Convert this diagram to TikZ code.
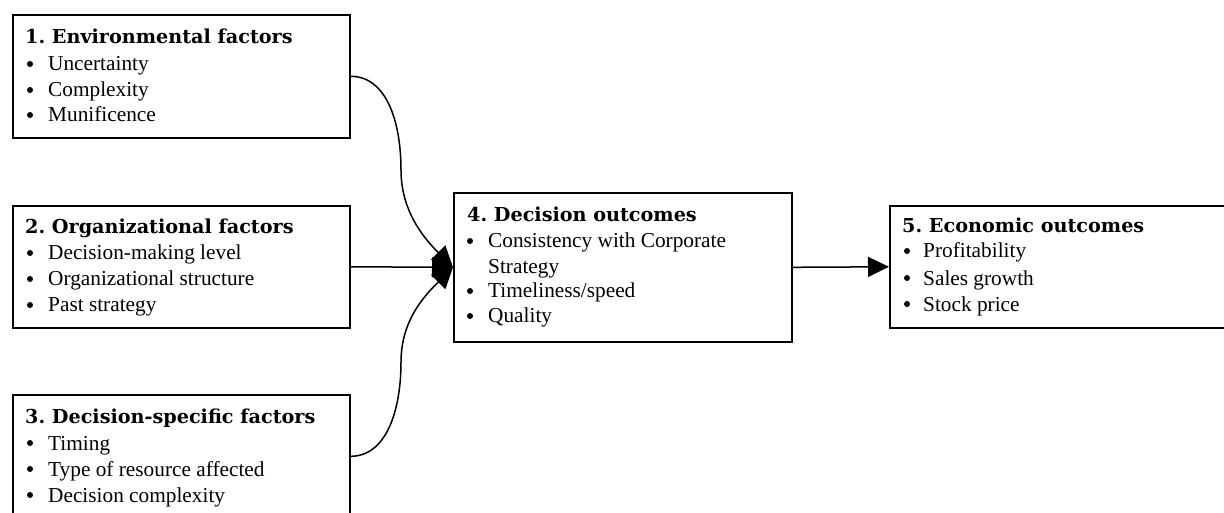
\documentclass[tikz,border=0pt]{standalone}
\usepackage{fontspec}
\setmainfont{Liberation Serif}
\newfontfamily\hdfont{DejaVu Serif}
\usetikzlibrary{arrows.meta}
\frenchspacing
\tikzset{
 box/.style={draw, line width=1.6pt, anchor=north west, inner sep=0},
 hd/.style={anchor=base west, inner sep=0, font=\hdfont\bfseries\fontsize{19.2}{22}\selectfont},
 itx/.style={anchor=base west, inner sep=0, font=\fontsize{21.3}{25}\selectfont},
 blt/.style={circle, fill, inner sep=0, minimum size=6pt},
 arr/.style={line width=1.5pt, -{Triangle[length=21pt,width=20pt]}},
}
\newcommand\bitem[5]{\node[blt] (#1b) at (#2,#4-7) {}; \node[itx] (#1) at (#3,#4) {#5};}
\begin{document}
\begin{tikzpicture}[x=1pt,y=-1pt]
\useasboundingbox (0,0) rectangle (1224,513);
\clip (0,0) rectangle (1224,513);
% boxes
\node[box, minimum width=337pt, minimum height=123pt] (b1) at (12,14) {};
\node[box, minimum width=337pt, minimum height=122pt] (b2) at (12,205) {};
\node[box, minimum width=337pt, minimum height=123pt] (b3) at (12,394) {};
\node[box, minimum width=338pt, minimum height=149pt] (b4) at (453,192) {};
\node[box, minimum width=400pt, minimum height=122pt] (b5) at (889,205) {};
% box 1
\node[hd] (h1) at (25,44) {1. Environmental factors};
\bitem{i11}{30}{48}{71}{Uncertainty}
\bitem{i12}{30}{48}{97}{Complexity}
\bitem{i13}{30}{48}{122}{Munificence}
% box 2
\node[hd] (h2) at (25,234) {2. Organizational factors};
\bitem{i21}{30}{48}{260}{Decision-making level}
\bitem{i22}{30}{48}{286}{Organizational structure}
\bitem{i23}{30}{48}{312}{Past strategy}
% box 3
\node[hd] (h3) at (25,423) {3. Decision-specific factors};
\bitem{i31}{30}{48}{450}{Timing}
\bitem{i32}{30}{48}{476}{Type of resource affected}
\bitem{i33}{30}{48}{502}{Decision complexity}
% box 4
\node[hd] (h4) at (467,222) {4. Decision outcomes};
\bitem{i41}{470}{488}{248}{Consistency with Corporate}
\node[itx] (i41c) at (488,273) {Strategy};
\bitem{i42}{470}{488}{298}{Timeliness/speed}
\bitem{i43}{470}{488}{323}{Quality}
% box 5
\node[hd] (h5) at (902,233) {5. Economic outcomes};
\bitem{i51}{907}{923}{258}{Profitability}
\bitem{i52}{907}{923}{285}{Sales growth}
\bitem{i53}{907}{923}{311}{Stock price}
% connectors
\coordinate (m1) at (401,170);
\coordinate (m2) at (401,362);
\draw[arr] (b1.east) .. controls +(36,0) and +(0,-48) .. (m1) .. controls +(0,42) and +(-28,-28) .. (b4.west);
\draw[arr] (b3.east) .. controls +(36,0) and +(0,48) .. (m2) .. controls +(0,-42) and +(-28,28) .. (b4.west);
\draw[arr] (b2.east) -- (b4.west);
\draw[arr] (b4.east) -- (b5.west);
\end{tikzpicture}
\end{document}
